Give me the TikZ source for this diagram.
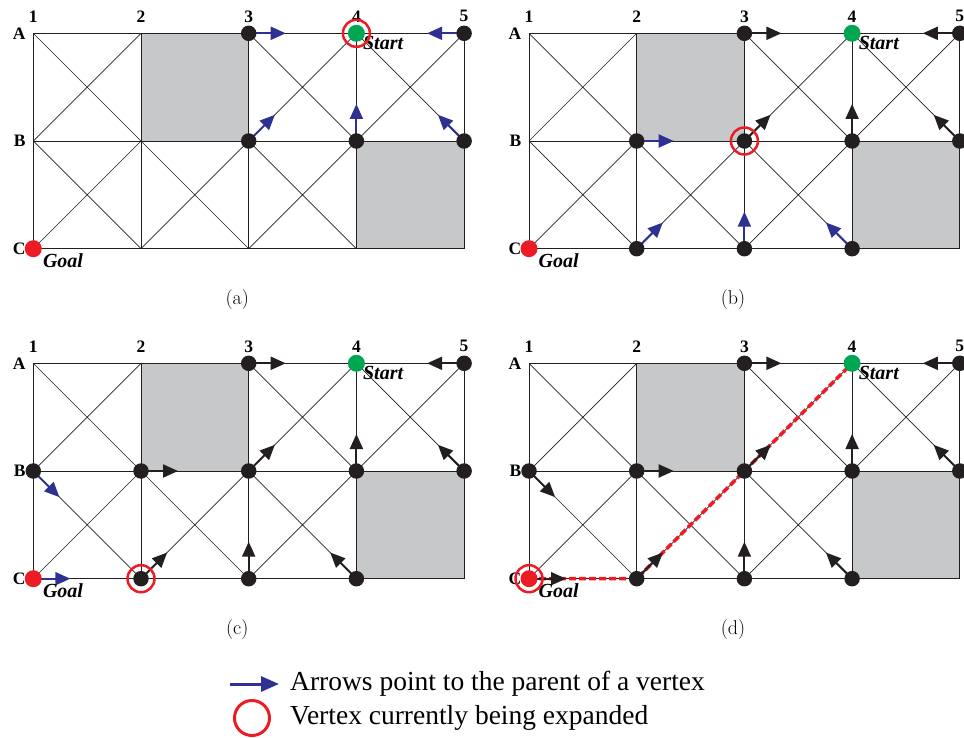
\documentclass[tikz,border=0pt]{standalone}
\usepackage{fontspec}
\newfontfamily\tms{Liberation Serif}
\usetikzlibrary{arrows.meta,calc}
\definecolor{obgray}{HTML}{C7C8CA}
\definecolor{stgreen}{HTML}{00A651}
\definecolor{glred}{HTML}{ED1C24}
\definecolor{arblue}{HTML}{2E3192}
\definecolor{vblack}{HTML}{231F20}
\tikzset{
  gline/.style={draw=vblack, line width=0.9pt},
  obst/.style={fill=obgray},
  vtx/.style={circle, fill=vblack, inner sep=0pt, minimum size=15.5pt},
  stv/.style={circle, fill=stgreen, inner sep=0pt, minimum size=17pt},
  glv/.style={circle, fill=glred, inner sep=0pt, minimum size=17pt},
  ring/.style={circle, draw=glred, line width=2.5pt, inner sep=0pt, minimum size=27pt},
  newarr/.style={draw=arblue, line width=2pt, -{Triangle[length=15pt,width=13pt]}},
  oldarr/.style={draw=vblack, line width=2pt, -{Triangle[length=15pt,width=13pt]}},
  legarr/.style={draw=arblue, line width=3pt, -{Triangle[length=18pt,width=15pt]}},
  pathred/.style={draw=glred, line width=3.5pt, dash pattern=on 7pt off 3pt},
  collab/.style={font={\tms\bfseries\fontsize{17.5}{20}\selectfont}, inner sep=0pt},
  sglab/.style={font={\tms\bfseries\itshape\fontsize{20}{22}\selectfont}, inner sep=0pt},
  caplab/.style={font={\fontsize{20}{24}\selectfont}, inner sep=0pt},
  legtext/.style={font={\tms\fontsize{27.5}{32}\selectfont}, inner sep=0pt},
}
\newcommand\vtxarrow[3]{\draw[#1] (#2) -- ($(#2)!37pt!(#3)$);}
\newcommand\gridpanel[4]{%
  \foreach \c in {1,...,5}{
    \foreach \r/\k in {A/0,B/1,C/2}{
      \coordinate (#1\c\r) at ({#2+(\c-1)*107.7},{#3+\k*107.7});
    }
  }
  \fill[obst] (#12A) rectangle (#13B);
  \fill[obst] (#14B) rectangle (#15C);
  \foreach \r in {A,B,C}{ \draw[gline] (#11\r) -- (#15\r); }
  \foreach \c in {1,...,5}{ \draw[gline] (#1\c A) -- (#1\c C); }
  \foreach \c/\cn/\r/\rn in {1/2/A/B,3/4/A/B,4/5/A/B,1/2/B/C,2/3/B/C,3/4/B/C}{
    \draw[gline, line width=0.7pt] (#1\c\r) -- (#1\cn\rn) (#1\c\rn) -- (#1\cn\r);
  }
  \foreach \c in {1,...,5}{ \node[collab] (#1col\c) at ($(#1\c A)+(0,-17)$) {\c}; }
  \foreach \r in {A,B,C}{ \node[collab, anchor=east] (#1row\r) at ($(#11\r)+(-7.5,0)$) {\r}; }
  \node[caplab] (#1cap) at ($(#11A)+(204,266.7)$) {#4};
}
\newcommand\startgoal[1]{%
  \node[stv] (#1start) at (#14A) {};
  \node[glv] (#1goal) at (#11C) {};
  \node[sglab, anchor=west] (#1startlab) at ($(#14A)+(6.5,10)$) {Start};
  \node[sglab, anchor=west] (#1goallab) at ($(#11C)+(9.5,12)$) {Goal};
}
\begin{document}
\begin{tikzpicture}[x=1pt,y=-1pt]
\useasboundingbox (0,0) rectangle (964,738);
\clip (0,0) rectangle (964,738);
% ---------- panel (a)
\gridpanel{a}{33.3}{33.3}{(a)}
\vtxarrow{newarr}{a3A}{a4A}
\vtxarrow{newarr}{a5A}{a4A}
\vtxarrow{newarr}{a3B}{a4A}
\vtxarrow{newarr}{a4B}{a4A}
\vtxarrow{newarr}{a5B}{a4A}
\foreach \v in {3A,5A,3B,4B,5B}{ \node[vtx] (av\v) at (a\v) {}; }
\startgoal{a}
\node[ring] (aring) at (a4A) {};
% ---------- panel (b)
\gridpanel{b}{529}{33.3}{(b)}
\vtxarrow{oldarr}{b3A}{b4A}
\vtxarrow{oldarr}{b5A}{b4A}
\vtxarrow{oldarr}{b3B}{b4A}
\vtxarrow{oldarr}{b4B}{b4A}
\vtxarrow{oldarr}{b5B}{b4A}
\vtxarrow{newarr}{b2B}{b3B}
\vtxarrow{newarr}{b2C}{b3B}
\vtxarrow{newarr}{b3C}{b3B}
\vtxarrow{newarr}{b4C}{b3B}
\foreach \v in {3A,5A,2B,3B,4B,5B,2C,3C,4C}{ \node[vtx] (bv\v) at (b\v) {}; }
\startgoal{b}
\node[ring] (bring) at (b3B) {};
% ---------- panel (c)
\gridpanel{c}{33.3}{363.3}{(c)}
\vtxarrow{oldarr}{c3A}{c4A}
\vtxarrow{oldarr}{c5A}{c4A}
\vtxarrow{oldarr}{c3B}{c4A}
\vtxarrow{oldarr}{c4B}{c4A}
\vtxarrow{oldarr}{c5B}{c4A}
\vtxarrow{oldarr}{c2B}{c3B}
\vtxarrow{oldarr}{c2C}{c3B}
\vtxarrow{oldarr}{c3C}{c3B}
\vtxarrow{oldarr}{c4C}{c3B}
\vtxarrow{newarr}{c1B}{c2C}
\vtxarrow{newarr}{c1C}{c2C}
\foreach \v in {3A,5A,1B,2B,3B,4B,5B,2C,3C,4C}{ \node[vtx] (cv\v) at (c\v) {}; }
\startgoal{c}
\node[ring] (cring) at (c2C) {};
% ---------- panel (d)
\gridpanel{d}{529}{363.3}{(d)}
\draw[pathred] (d1C) -- (d2C) -- (d3B) -- (d4A);
\vtxarrow{oldarr}{d3A}{d4A}
\vtxarrow{oldarr}{d5A}{d4A}
\vtxarrow{oldarr}{d3B}{d4A}
\vtxarrow{oldarr}{d4B}{d4A}
\vtxarrow{oldarr}{d5B}{d4A}
\vtxarrow{oldarr}{d2B}{d3B}
\vtxarrow{oldarr}{d2C}{d3B}
\vtxarrow{oldarr}{d3C}{d3B}
\vtxarrow{oldarr}{d4C}{d3B}
\vtxarrow{oldarr}{d1B}{d2C}
\vtxarrow{oldarr}{d1C}{d2C}
\foreach \v in {3A,5A,1B,2B,3B,4B,5B,2C,3C,4C}{ \node[vtx] (dv\v) at (d\v) {}; }
\startgoal{d}
\node[ring] (dring) at (d1C) {};
% ---------- legend
\coordinate (lgA) at (230,684);
\coordinate (lgB) at (279,684);
\draw[legarr] (lgA) -- (lgB);
\node[legtext, anchor=west] (lgt1) at (290,684) {Arrows point to the parent of a vertex};
\node[ring, minimum size=35pt, line width=3pt] (lgring) at (252,718) {};
\node[legtext, anchor=west] (lgt2) at (290,718) {Vertex currently being expanded};
\end{tikzpicture}
\end{document}
